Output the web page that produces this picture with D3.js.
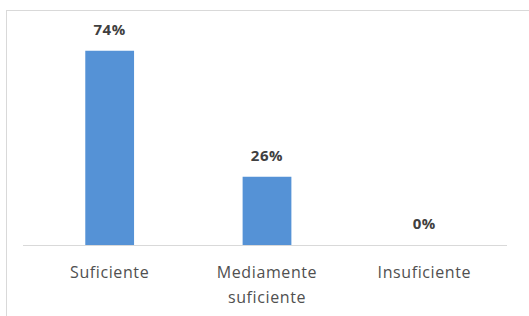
<!DOCTYPE html>
<html>
<head>
<meta charset="utf-8">
<script src="https://cdn.jsdelivr.net/npm/d3@7"></script>
<style>
  body { margin: 0; background: #fff; }
  svg { display: block; }
</style>
</head>
<body>
<div id="chart"></div>
<script>
const categories = ['Suficiente', 'Mediamente suficiente', 'Insuficiente'];
const values = [0.74, 0.26, 0.0];
const valueLabels = ['74%', '26%', '0%'];

const width = 529, height = 316;
const svg = d3.select('#chart').append('svg')
  .attr('width', width)
  .attr('height', height);

// chart frame (right and bottom edges fall outside the picture)
svg.append('rect')
  .attr('x', 6.5).attr('y', 10.5)
  .attr('width', 560).attr('height', 340)
  .attr('fill', '#fff')
  .attr('stroke', '#d9d9d9');

const x = d3.scaleBand()
  .domain(categories)
  .range([31, 503])
  .paddingInner(0.69)
  .paddingOuter(0.345);

const y = d3.scaleLinear()
  .domain([0, 0.8])
  .range([245, 35]);

const data = categories.map((c, i) => ({ name: c, value: values[i], label: valueLabels[i] }));

// baseline
svg.append('line')
  .attr('x1', 23).attr('x2', 507)
  .attr('y1', y(0) + 0.5).attr('y2', y(0) + 0.5)
  .attr('stroke', '#d9d9d9');

svg.selectAll('.bar')
  .data(data)
  .enter()
  .append('rect')
  .classed('bar', true)
  .attr('x', d => x(d.name))
  .attr('y', d => y(d.value))
  .attr('width', x.bandwidth())
  .attr('height', d => y(0) - y(d.value))
  .attr('fill', '#5592d6');

svg.selectAll('.val')
  .data(data)
  .enter()
  .append('text')
  .classed('val', true)
  .attr('x', d => x(d.name) + x.bandwidth() / 2)
  .attr('y', d => y(d.value) - 16)
  .attr('text-anchor', 'middle')
  .style('font-family', '"Open Sans", sans-serif')
  .style('font-size', '15px')
  .style('font-weight', 'bold')
  .style('letter-spacing', '0.6px')
  .attr('fill', '#404040')
  .text(d => d.label);

// category labels, wrapped on two lines where Excel did
const cat = svg.selectAll('.cat')
  .data(data)
  .enter()
  .append('text')
  .classed('cat', true)
  .attr('x', d => x(d.name) + x.bandwidth() / 2)
  .attr('y', 278)
  .attr('text-anchor', 'middle')
  .style('font-family', '"Open Sans", sans-serif')
  .style('font-size', '16px')
  .style('letter-spacing', '0.6px')
  .attr('fill', '#505050');

cat.each(function(d) {
  const words = d.name === 'Mediamente suficiente' ? ['Mediamente', 'suficiente'] : [d.name];
  const cx = x(d.name) + x.bandwidth() / 2;
  words.forEach((w, i) => {
    d3.select(this).append('tspan')
      .attr('x', cx)
      .attr('dy', i === 0 ? 0 : 25)
      .text(w);
  });
});
</script>
</body>
</html>
